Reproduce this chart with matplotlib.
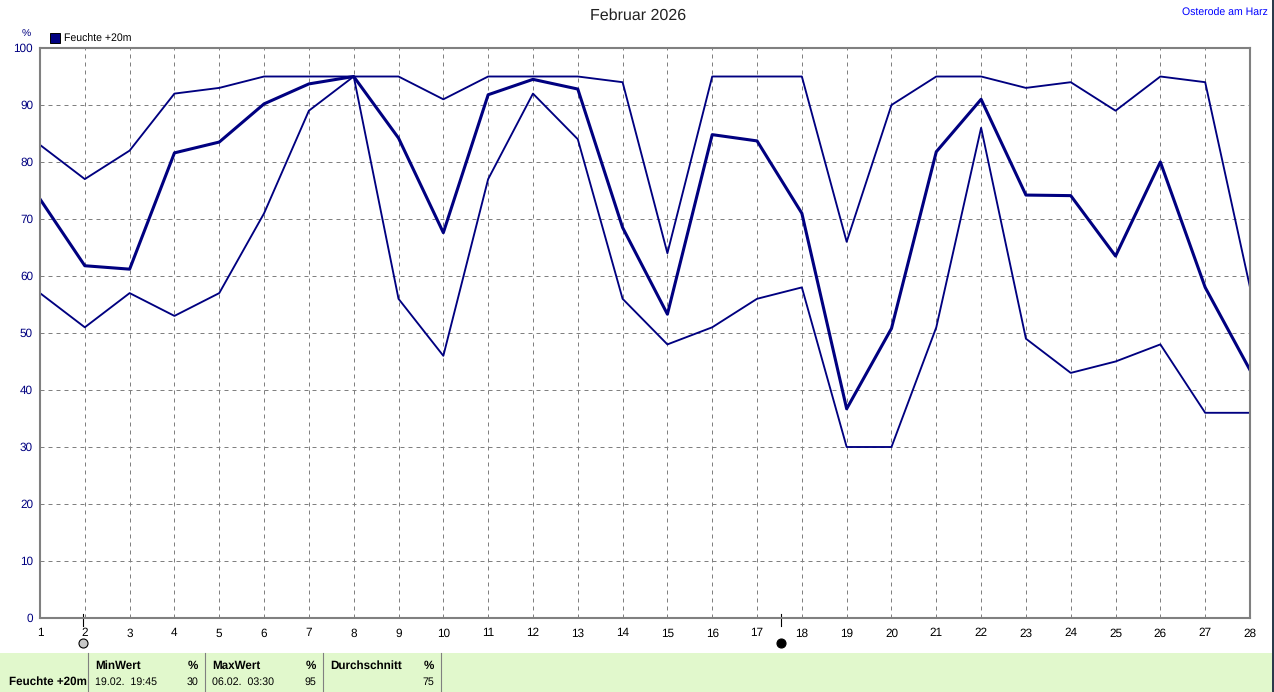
import matplotlib
matplotlib.use('Agg')
import matplotlib.pyplot as plt
from matplotlib.patches import Rectangle
from matplotlib.transforms import blended_transform_factory

plt.rcParams['font.family'] = ['Liberation Sans', 'DejaVu Sans']
plt.rcParams['text.hinting'] = 'none'

# Daily values
days = list(range(1, 29))
feuchte_max = [83, 77, 82, 92, 93, 95, 95, 95, 95, 91, 95, 95, 95, 94,
               64, 95, 95, 95, 66, 90, 95, 95, 93, 94, 89, 95, 94, 58]
feuchte_avg = [73.5, 61.8, 61.2, 81.6, 83.5, 90.2, 93.7, 95, 84.2, 67.6, 91.8, 94.5, 92.8, 68.5,
               53.3, 84.8, 83.7, 71, 36.7, 50.8, 81.8, 91, 74.2, 74.1, 63.5, 80, 58, 43.5]
feuchte_min = [57, 51, 57, 53, 57, 71, 89, 95, 56, 46, 77, 92, 84, 56,
               48, 51, 56, 58, 30, 30, 51, 86, 49, 43, 45, 48, 36, 36]
y_ticks = list(range(0, 101, 10))
new_moon_day = 1.96
full_moon_day = 17.54

W, H = 1274, 692
NAVY = '#000080'
GREY = '#808080'
PANEL = '#e1f8cc'


def px(x, y):
    # image pixels (origin top left) -> figure fraction
    return x / W, 1 - y / H


fig = plt.figure(figsize=(W / 100, H / 100), dpi=100, facecolor='white')
ax = fig.add_axes([40 / W, 1 - 618 / H, 1210 / W, 570 / H])
ax.set_xlim(1, 28)
ax.set_ylim(0, 100)

ax.grid(True, color=GREY, linestyle=(0, (4, 4)), linewidth=0.72)
ax.set_axisbelow(True)
for s in ax.spines.values():
    s.set_color(GREY)
    s.set_linewidth(1.5)

ax.plot(days, feuchte_max, color=NAVY, lw=1.35)
ax.plot(days, feuchte_min, color=NAVY, lw=1.35)
ax.plot(days, feuchte_avg, color=NAVY, lw=2.2)

ax.set_xticks(days)
ax.set_yticks(y_ticks)
ax.tick_params(axis='x', length=0, pad=7, labelsize=8.5, labelcolor='black')
ax.tick_params(axis='y', length=0, pad=5, labelsize=8.5, labelcolor=NAVY)

# Moon phase markers under the x axis
trans = blended_transform_factory(ax.transData, ax.transAxes)
for day, fc in [(new_moon_day, '#c8c8c8'), (full_moon_day, 'black')]:
    ax.plot([day, day], [-0.014, 0.007], color='black', lw=0.8, transform=trans, clip_on=False)
    ax.plot([day], [-0.044], marker='o', ms=6.5, mfc=fc, mec='black', mew=0.8,
            transform=trans, clip_on=False)

# Header
fig.text(*px(638, 16), 'Februar 2026', ha='center', va='center', fontsize=11.5, color='#222222')
fig.text(*px(1268, 13), 'Osterode am Harz', ha='right', va='center', fontsize=7.6, color='#0000ff')
fig.text(*px(26, 34), '%', ha='center', va='center', fontsize=7.5, color=NAVY)
fig.patches.append(Rectangle(px(50, 43), 10 / W, 10 / H, transform=fig.transFigure,
                             fc=NAVY, ec='black', lw=0.7))
fig.text(*px(64, 39), 'Feuchte +20m', ha='left', va='center', fontsize=7.6, color='black')

# Stats panel at the bottom
fig.patches.append(Rectangle(px(0, 692), 1272 / W, 39 / H, transform=fig.transFigure, fc=PANEL, ec='none'))
for x in [88, 205, 323, 441]:
    fig.add_artist(plt.Line2D([x / W, x / W], [0, 39 / H], color=GREY, lw=0.8))

# Dark sliver along the right edge of the screenshot
fig.patches.append(Rectangle(px(1272, 692), 2 / W, 1, transform=fig.transFigure, fc='#2b3a4a', ec='none'))

bold = dict(fontsize=8.4, fontweight='bold', va='center', color='black')
norm = dict(fontsize=7.7, va='center', color='black')
fig.text(*px(95, 666), 'MinWert', ha='left', **bold)
fig.text(*px(198, 666), '%', ha='right', **bold)
fig.text(*px(212, 666), 'MaxWert', ha='left', **bold)
fig.text(*px(316, 666), '%', ha='right', **bold)
fig.text(*px(330, 666), 'Durchschnitt', ha='left', **bold)
fig.text(*px(434, 666), '%', ha='right', **bold)
fig.text(*px(87, 682), 'Feuchte +20m', ha='right', **bold)
fig.text(*px(95, 682), '19.02.  19:45', ha='left', **norm)
fig.text(*px(198, 682), '30', ha='right', **norm)
fig.text(*px(212, 682), '06.02.  03:30', ha='left', **norm)
fig.text(*px(316, 682), '95', ha='right', **norm)
fig.text(*px(434, 682), '75', ha='right', **norm)

fig.savefig('out.png', dpi=100)
